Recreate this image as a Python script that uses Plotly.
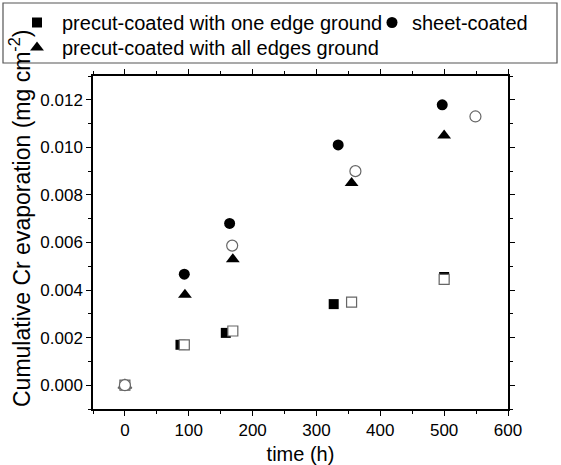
import plotly.graph_objects as go

# Data (time in h, cumulative Cr evaporation in mg cm^-2)
one_edge_x = [0, 87, 158, 327, 500]
one_edge_y = [0.0, 0.0017, 0.0022, 0.00341, 0.00455]
one_edge_open_x = [0, 93, 169, 355, 500]
one_edge_open_y = [0.0, 0.0017, 0.00228, 0.00349, 0.00445]

sheet_x = [0, 93, 164, 334, 497]
sheet_y = [0.0, 0.00467, 0.0068, 0.0101, 0.01179]
sheet_open_x = [0, 168, 361, 549]
sheet_open_y = [0.0, 0.00587, 0.0090, 0.0113]

all_edges_x = [0, 94, 169, 355, 500]
all_edges_y = [0.0, 0.0038, 0.0053, 0.0085, 0.0105]
all_edges_open_x = [0]
all_edges_open_y = [0.0]

FONT = "Liberation Sans, Arial, sans-serif"
OPEN_LINE = "#666666"
LEG_FONT = 20

fig = go.Figure()

# legend entries (filled)
fig.add_trace(go.Scatter(x=one_edge_x, y=one_edge_y, mode="markers",
                         name="precut-coated with one edge ground",
                         marker=dict(symbol="square", size=10, color="black"),
                         legend="legend"))
fig.add_trace(go.Scatter(x=sheet_x, y=sheet_y, mode="markers",
                         name="sheet-coated",
                         marker=dict(symbol="circle", size=11, color="black"),
                         legend="legend2"))
fig.add_trace(go.Scatter(x=all_edges_x, y=all_edges_y, mode="markers",
                         name="precut-coated with all edges ground",
                         marker=dict(symbol="triangle-up", size=12, color="black"),
                         legend="legend3"))

# open markers (not in legend)
fig.add_trace(go.Scatter(x=all_edges_open_x, y=all_edges_open_y, mode="markers",
                         showlegend=False,
                         marker=dict(symbol="triangle-up", size=12, color="white",
                                     line=dict(color=OPEN_LINE, width=1.2))))
fig.add_trace(go.Scatter(x=one_edge_open_x, y=one_edge_open_y, mode="markers",
                         showlegend=False,
                         marker=dict(symbol="square", size=10, color="white",
                                     line=dict(color=OPEN_LINE, width=1.2))))
fig.add_trace(go.Scatter(x=sheet_open_x, y=sheet_open_y, mode="markers",
                         showlegend=False,
                         marker=dict(symbol="circle", size=11, color="white",
                                     line=dict(color=OPEN_LINE, width=1.2))))

axis_common = dict(
    showline=True, linecolor="black", linewidth=1.5, mirror="allticks",
    ticks="outside", ticklen=5, tickwidth=1.3, tickcolor="black",
    showgrid=False, zeroline=False,
    tickfont=dict(family=FONT, size=17, color="black"),
)

def px_x(p):
    return (p - 93) / 415

def px_y(p):
    return (409 - p) / 333

leg_common = dict(xanchor="left", yanchor="top", orientation="v",
                  bgcolor="rgba(0,0,0,0)", borderwidth=0,
                  font=dict(family=FONT, size=LEG_FONT, color="black"))

fig.update_layout(
    width=561, height=465,
    margin=dict(l=93, r=53, t=76, b=56, autoexpand=False),
    plot_bgcolor="white", paper_bgcolor="white",
    font=dict(family=FONT, size=18, color="black"),
    xaxis=dict(range=[-50, 600], dtick=100, tick0=0,
               minor=dict(dtick=50, ticklen=3, ticks="outside", tickcolor="black"),
               title=dict(text="time (h)", font=dict(family=FONT, size=20), standoff=10),
               **axis_common),
    yaxis=dict(range=[-0.001, 0.013], dtick=0.002, tick0=0, tickformat=".3f",
               minor=dict(dtick=0.001, ticklen=3, ticks="outside", tickcolor="black"),
               **axis_common),
    legend=dict(x=px_x(12), y=px_y(3), itemwidth=40, **leg_common),
    legend2=dict(x=px_x(372), y=px_y(3), **leg_common),
    legend3=dict(x=px_x(12), y=px_y(28), itemwidth=40, **leg_common),
    shapes=[dict(type="rect", xref="paper", yref="paper",
                 x0=px_x(3), x1=px_x(557), y0=px_y(63), y1=px_y(3),
                 line=dict(color="#555555", width=1.2), fillcolor="rgba(0,0,0,0)")],
    annotations=[dict(text="Cumulative Cr evaporation (mg cm<sup>-2</sup>)",
                      textangle=-90, xref="paper", yref="paper",
                      x=px_x(20), y=px_y(219), xanchor="center", yanchor="middle",
                      showarrow=False, font=dict(family=FONT, size=23, color="black"))],
)

fig.write_html("out.html")
